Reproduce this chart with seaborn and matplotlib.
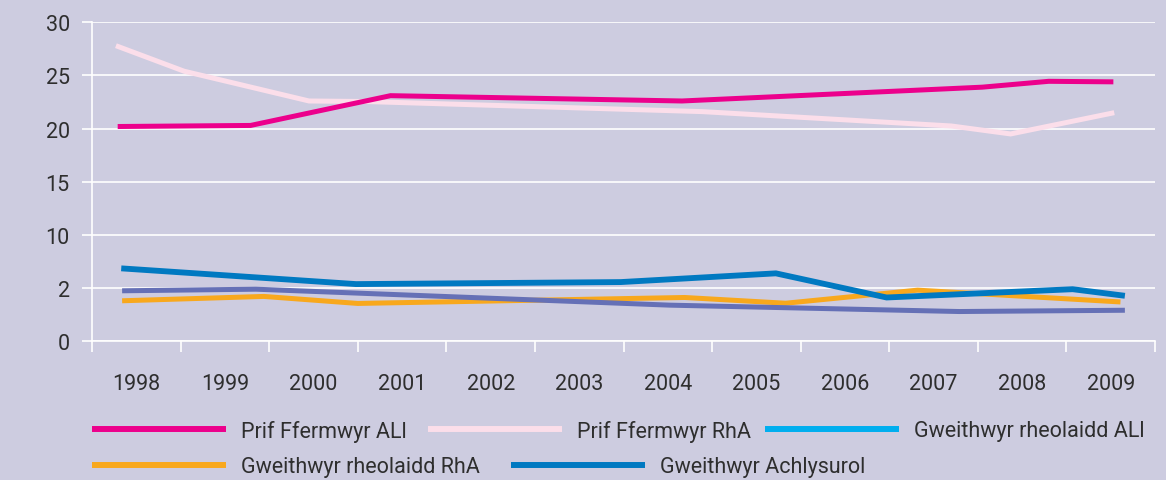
import matplotlib
matplotlib.use('Agg')
import matplotlib.pyplot as plt
from matplotlib.lines import Line2D
import pandas as pd
import seaborn as sns

years = list(range(1998, 2010))
y_ticks = [0, 5, 10, 15, 20, 25, 30]
y_tick_labels = ['0', '2', '10', '15', '20', '25', '30']   # the "2" is as printed

# lines were traced off the picture, the bends don't sit on the year centres
prif_all_x = [1997.79, 1999.29, 2000.87, 2004.16, 2007.55, 2008.30, 2009.03]
prif_all_y = [20.2, 20.3, 23.1, 22.6, 23.9, 24.45, 24.4]

prif_rha_x = [1997.77, 1998.54, 1999.95, 2000.59, 2004.39, 2007.20, 2007.87, 2009.04]
prif_rha_y = [27.8, 25.4, 22.6, 22.55, 21.6, 20.25, 19.5, 21.5]

rheol_all_x = [1997.84, 1999.35, 2004.02, 2007.29, 2009.16]
rheol_all_y = [4.75, 4.9, 3.4, 2.8, 2.92]

rheol_rha_x = [1997.84, 1999.44, 2000.50, 2004.19, 2005.33, 2006.82, 2009.11]
rheol_rha_y = [3.81, 4.22, 3.56, 4.12, 3.58, 4.81, 3.7]

achly_x = [1997.83, 2000.48, 2003.47, 2005.22, 2006.47, 2008.57, 2009.16]
achly_y = [6.86, 5.38, 5.57, 6.39, 4.12, 4.9, 4.28]

names = ['Prif Ffermwyr ALl', 'Prif Ffermwyr RhA', 'Gweithwyr rheolaidd ALl',
         'Gweithwyr rheolaidd RhA', 'Gweithwyr Achlysurol']
xs = [prif_all_x, prif_rha_x, rheol_all_x, rheol_rha_x, achly_x]
ys = [prif_all_y, prif_rha_y, rheol_all_y, rheol_rha_y, achly_y]

line_colors = {'Prif Ffermwyr ALl': '#ec008c', 'Prif Ffermwyr RhA': '#fbdeea',
               'Gweithwyr rheolaidd ALl': '#6570b6', 'Gweithwyr rheolaidd RhA': '#f8a81d',
               'Gweithwyr Achlysurol': '#0079c1'}
# legend swatch for rheolaidd ALl is cyan in the original even though the line is purple
legend_colors = dict(line_colors, **{'Gweithwyr rheolaidd ALl': '#00aeef'})
widths = {'Prif Ffermwyr ALl': 3.6, 'Prif Ffermwyr RhA': 3.6, 'Gweithwyr rheolaidd ALl': 3.6,
          'Gweithwyr rheolaidd RhA': 3.6, 'Gweithwyr Achlysurol': 4.2}
draw_order = ['Prif Ffermwyr RhA', 'Prif Ffermwyr ALl', 'Gweithwyr rheolaidd RhA',
              'Gweithwyr rheolaidd ALl', 'Gweithwyr Achlysurol']

df = pd.concat([pd.DataFrame({'year': x, 'value': y, 'series': n})
                for n, x, y in zip(names, xs, ys)], ignore_index=True)

bg = '#cdcce0'
txt = '#2e2e2e'
fs = 15.5
plt.rcParams['font.family'] = ['Roboto', 'DejaVu Sans']
plt.rcParams['font.size'] = fs

fig = plt.figure(figsize=(11.66, 4.81), dpi=100, facecolor=bg)
ax = fig.add_axes([92/1166, 1 - 342.3/481, (1155-92)/1166, (342.3-23.3)/481])
ax.set_facecolor(bg)

for n in draw_order:
    sns.lineplot(data=df[df['series'] == n], x='year', y='value', ax=ax,
                 color=line_colors[n], linewidth=widths[n], legend=False,
                 estimator=None, sort=False, solid_capstyle='butt', solid_joinstyle='miter')

ax.set_xlim(1997.5, 2009.5)
ax.set_ylim(0, 30)
ax.set_xticks(years)
ax.set_xticklabels([str(y) for y in years])
ax.set_xticks([y - 0.5 for y in years] + [2009.5], minor=True)
ax.set_yticks(y_ticks)
ax.set_yticklabels(y_tick_labels)
ax.tick_params(axis='x', which='major', length=0, pad=22.5, colors=txt, labelsize=fs)
ax.tick_params(axis='x', which='minor', length=8, width=1.2, color='white', direction='out')
ax.tick_params(axis='y', length=7.5, width=1.2, color='white', pad=8.5, labelcolor=txt, labelsize=fs)
ax.set_xlabel('')
ax.set_ylabel('')
ax.grid(axis='y', color='white', linewidth=1.2)
ax.set_axisbelow(True)
for s in ['top', 'right']:
    ax.spines[s].set_visible(False)
for s in ['left', 'bottom']:
    ax.spines[s].set_color('white')
    ax.spines[s].set_linewidth(1.2)

# legend entries flow like text in the original, so place each one by hand
fs_px = fs * 100 / 72
spots = [(92, 432), (428, 432), (765, 432), (92, 468), (511, 468)]
for n, (px, py) in zip(names, spots):
    h = Line2D([], [], color=legend_colors[n], linewidth=4.3, solid_capstyle='butt')
    fig.legend([h], [n], loc='center left', bbox_to_anchor=(px/1166, 1 - py/481),
               frameon=False, borderpad=0, borderaxespad=0, handlelength=134/fs_px,
               handletextpad=15/fs_px, fontsize=fs, labelcolor=txt)

fig.savefig('out.png', dpi=100, facecolor=bg)
